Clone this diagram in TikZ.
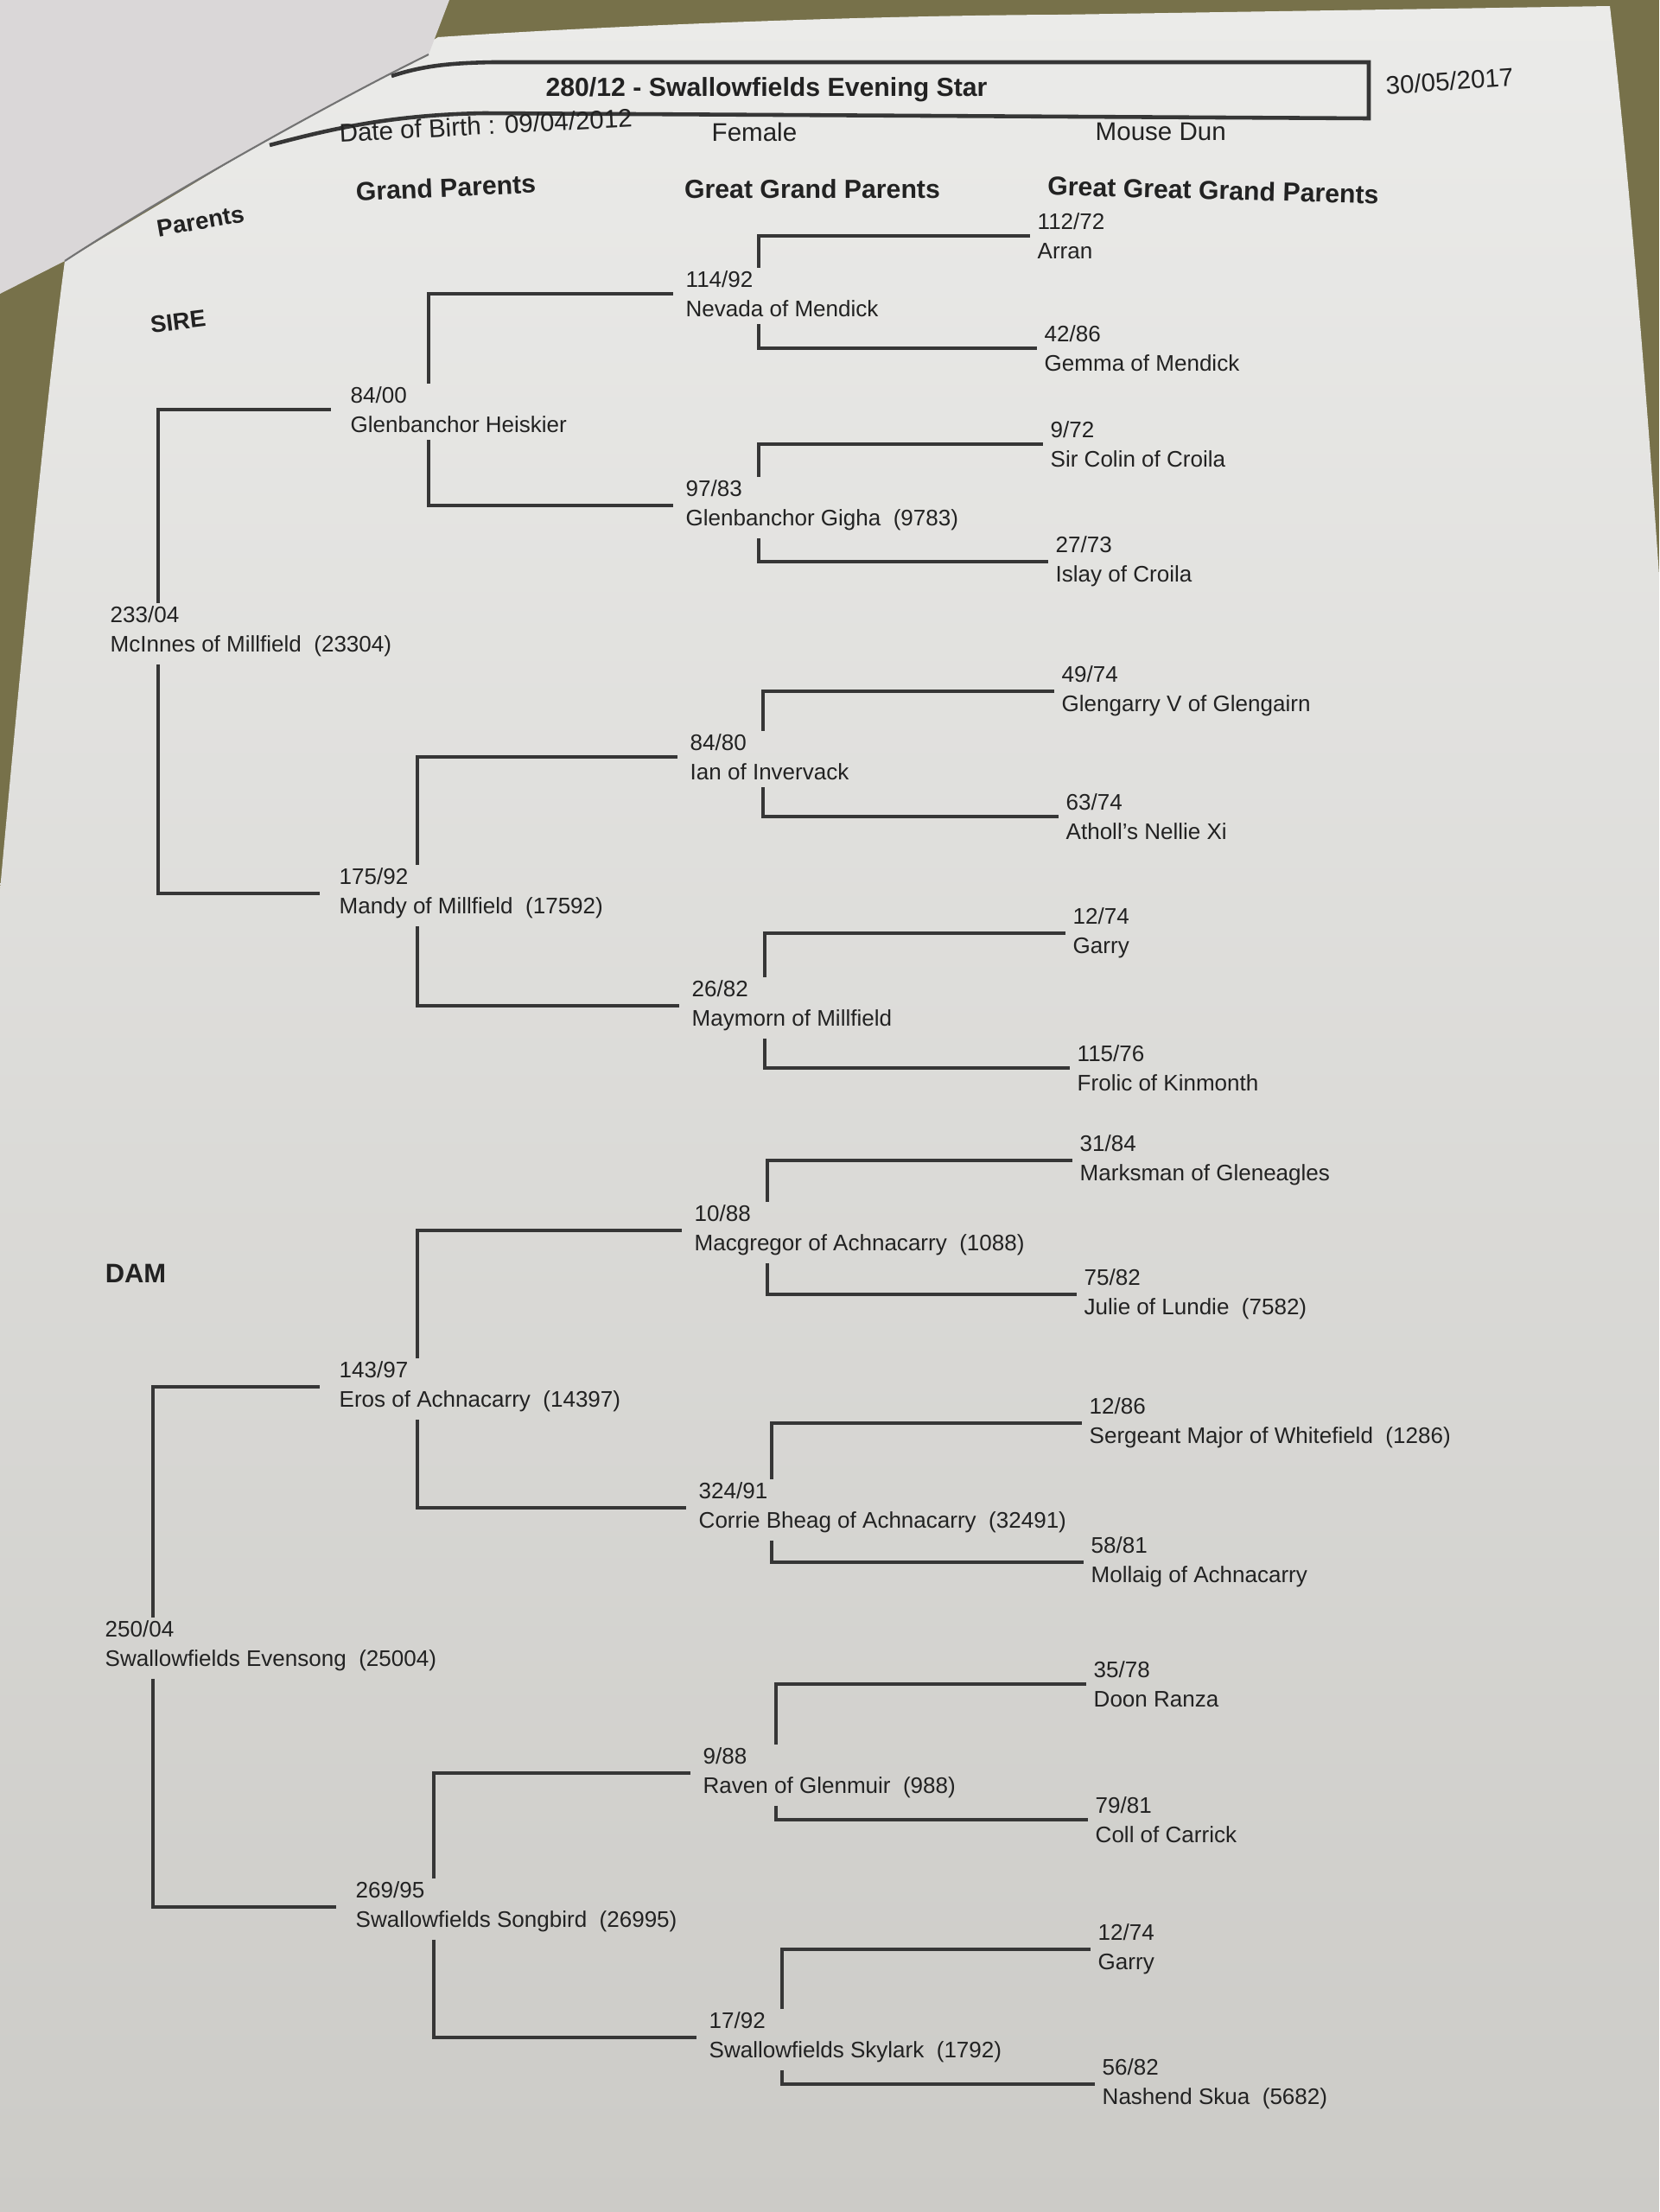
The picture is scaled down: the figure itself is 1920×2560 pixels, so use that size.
\documentclass[tikz,border=0pt]{standalone}
\usepackage{fontspec}
\setmainfont{Liberation Sans}
\usetikzlibrary{calc}
\definecolor{carpet}{HTML}{77714A}
\definecolor{paperA}{HTML}{EBEBE9}
\definecolor{paperB}{HTML}{CCCBC7}
\definecolor{sheet}{HTML}{DAD7D8}
\definecolor{ink}{HTML}{222222}
\definecolor{rule}{HTML}{363636}
\newcommand\dsp{\hspace*{0.556em}}
\newcommand\pedlink[5]{%
  \draw[link] ([xshift=#4,yshift=0.03cm]#1.north west) |- ([xshift=-#5]#2.west);
  \draw[link] ([xshift=#4,yshift=-0.08cm]#1.south west) |- ([xshift=-#5]#3.west);}
\begin{document}
\begin{tikzpicture}[x=0.01cm,y=-0.01cm,
  person/.style={anchor=west,align=left,inner sep=0pt,text=ink,font=\fontsize{7.4}{9.7}\selectfont},
  hdr/.style={font=\bfseries\fontsize{8.6}{10}\selectfont,text=ink,inner sep=0pt},
  info/.style={font=\fontsize{8.4}{10}\selectfont,text=ink,inner sep=0pt,anchor=west},
  link/.style={draw=rule,line width=1.1pt},
  boxline/.style={draw=rule,line width=1.3pt}]
\useasboundingbox (0,0) rectangle (1920,2560);
% background: carpet, page, overlapping sheet
\fill[carpet] (0,0) rectangle (1920,2560);
\shade[top color=paperA,bottom color=paperB]
  (507,43) .. controls (700,30) and (1000,18) .. (1224,17) -- (1863,7)
  .. controls (1885,200) and (1905,450) .. (1920,666) -- (1920,2560) -- (0,2560) -- (0,1030)
  .. controls (30,700) and (55,450) .. (75,302) -- cycle;
\fill[sheet] (0,0) -- (520,0) -- (496,63) .. controls (400,110) and (200,220) .. (75,302) -- (0,340) -- cycle;
\draw[black!55,line width=0.6pt] (496,63) .. controls (400,110) and (200,220) .. (75,302);
% title box
\draw[boxline] (453,88) .. controls (490,76) and (520,73) .. (570,72) -- (1584,72) -- (1584,137)
  -- (560,131) .. controls (450,133) and (380,150) .. (312,168);
% header texts
\node[hdr] (title) at (887,104) {280/12 - Swallowfields Evening Star};
\node[info,rotate=4] (date) at (1603,99) {30/05/2017};
\node[info,rotate=3] (dob) at (392,154) {Date of Birth : 09/04/2012};
\node[info] (sex) at (823,153) {Female};
\node[info] (colour) at (1267,152) {Mouse Dun};
\node[hdr,font=\bfseries\fontsize{7.9}{10}\selectfont,rotate=10] (hp) at (232,256) {Parents};
\node[hdr,rotate=2.5] (hgp) at (516,217) {Grand Parents};
\node[hdr] (hggp) at (940,219) {Great Grand Parents};
\node[hdr,rotate=-1.5] (hgggp) at (1404,220) {Great Great Grand Parents};
\node[hdr,font=\bfseries\fontsize{7.8}{10}\selectfont,rotate=7] (sire) at (206,372) {SIRE};
\node[hdr,font=\bfseries\fontsize{8.8}{10}\selectfont] (dam) at (157,1474) {DAM};
% parents
\node[person] (p23304) at (127,731) {233/04\\McInnes of Millfield\dsp(23304)};
\node[person] (p25004) at (121,1905) {250/04\\Swallowfields Evensong\dsp(25004)};
% grand parents
\node[person] (g8400) at (405,474) {84/00\\Glenbanchor Heiskier};
\node[person] (g17592) at (392,1034) {175/92\\Mandy of Millfield\dsp(17592)};
\node[person] (g14397) at (392,1605) {143/97\\Eros of Achnacarry\dsp(14397)};
\node[person] (g26995) at (411,2207) {269/95\\Swallowfields Songbird\dsp(26995)};
% great grand parents
\node[person] (gg11492) at (793,340) {114/92\\Nevada of Mendick};
\node[person] (gg9783) at (793,585) {97/83\\Glenbanchor Gigha\dsp(9783)};
\node[person] (gg8480) at (798,876) {84/80\\Ian of Invervack};
\node[person] (gg2682) at (800,1164) {26/82\\Maymorn of Millfield};
\node[person] (gg1088) at (803,1424) {10/88\\Macgregor of Achnacarry\dsp(1088)};
\node[person] (gg32491) at (808,1745) {324/91\\Corrie Bheag of Achnacarry\dsp(32491)};
\node[person] (gg988) at (813,2052) {9/88\\Raven of Glenmuir\dsp(988)};
\node[person] (gg1792) at (820,2358) {17/92\\Swallowfields Skylark\dsp(1792)};
% great great grand parents
\node[person] (a1) at (1200,273) {112/72\\Arran};
\node[person] (a2) at (1208,403) {42/86\\Gemma of Mendick};
\node[person] (a3) at (1215,514) {9/72\\Sir Colin of Croila};
\node[person] (a4) at (1221,650) {27/73\\Islay of Croila};
\node[person] (a5) at (1228,800) {49/74\\Glengarry V of Glengairn};
\node[person] (a6) at (1233,945) {63/74\\Atholl's Nellie Xi};
\node[person] (a7) at (1241,1080) {12/74\\Garry};
\node[person] (a8) at (1246,1236) {115/76\\Frolic of Kinmonth};
\node[person] (a9) at (1249,1343) {31/84\\Marksman of Gleneagles};
\node[person] (a10) at (1254,1498) {75/82\\Julie of Lundie\dsp(7582)};
\node[person] (a11) at (1260,1647) {12/86\\Sergeant Major of Whitefield\dsp(1286)};
\node[person] (a12) at (1262,1808) {58/81\\Mollaig of Achnacarry};
\node[person] (a13) at (1265,1949) {35/78\\Doon Ranza};
\node[person] (a14) at (1267,2106) {79/81\\Coll of Carrick};
\node[person] (a15) at (1270,2256) {12/74\\Garry};
\node[person] (a16) at (1275,2412) {56/82\\Nashend Skua\dsp(5682)};
% connectors
\pedlink{p23304}{g8400}{g17592}{0.56cm}{0.22cm}
\pedlink{p25004}{g14397}{g26995}{0.56cm}{0.22cm}
\pedlink{g8400}{gg11492}{gg9783}{0.91cm}{0.14cm}
\pedlink{g17592}{gg8480}{gg2682}{0.91cm}{0.14cm}
\pedlink{g14397}{gg1088}{gg32491}{0.91cm}{0.14cm}
\pedlink{g26995}{gg988}{gg1792}{0.91cm}{0.14cm}
\pedlink{gg11492}{a1}{a2}{0.85cm}{0.08cm}
\pedlink{gg9783}{a3}{a4}{0.85cm}{0.08cm}
\pedlink{gg8480}{a5}{a6}{0.85cm}{0.08cm}
\pedlink{gg2682}{a7}{a8}{0.85cm}{0.08cm}
\pedlink{gg1088}{a9}{a10}{0.85cm}{0.08cm}
\pedlink{gg32491}{a11}{a12}{0.85cm}{0.08cm}
\pedlink{gg988}{a13}{a14}{0.85cm}{0.08cm}
\pedlink{gg1792}{a15}{a16}{0.85cm}{0.08cm}
\end{tikzpicture}
\end{document}
